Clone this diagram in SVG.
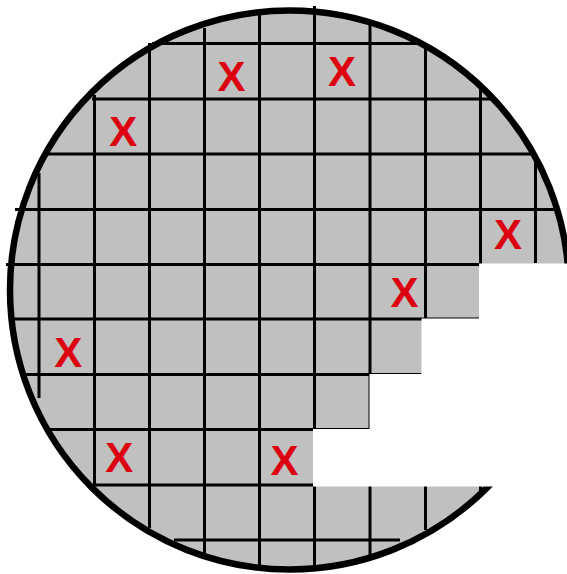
<svg xmlns="http://www.w3.org/2000/svg" width="567" height="574" viewBox="0 0 567 574">
<style>
.g line{stroke:#000;stroke-width:3}
.x{font-family:"Liberation Sans",Arial,sans-serif;font-weight:bold;font-size:42px;fill:#dc0010;text-anchor:middle}
</style>
<rect width="567" height="574" fill="#fff"/>
<g id="wafer">
<circle cx="289.5" cy="290" r="279.5" fill="#c0c0c0"/>
</g>
<g id="grid" class="g">
<line x1="39" y1="173" x2="39" y2="398"/>
<line x1="94.5" y1="95" x2="94.5" y2="486"/>
<line x1="149.5" y1="43" x2="149.5" y2="528"/>
<line x1="204.5" y1="28" x2="204.5" y2="554"/>
<line x1="259.5" y1="15" x2="259.5" y2="565"/>
<line x1="314.5" y1="6" x2="314.5" y2="568"/>
<line x1="370" y1="23" x2="370" y2="556"/>
<line x1="425.5" y1="47" x2="425.5" y2="530"/>
<line x1="480.5" y1="87" x2="480.5" y2="492"/>
<line x1="535.5" y1="157" x2="535.5" y2="263"/>
<line x1="152" y1="43.5" x2="423" y2="43.5"/>
<line x1="92" y1="99" x2="491" y2="99"/>
<line x1="43" y1="154" x2="533" y2="154"/>
<line x1="15" y1="209.5" x2="560" y2="209.5"/>
<line x1="6" y1="264.5" x2="479" y2="264.5"/>
<line x1="13" y1="319" x2="479" y2="319"/>
<line x1="25" y1="374.5" x2="421.5" y2="374.5"/>
<line x1="50" y1="429.5" x2="369.5" y2="429.5"/>
<line x1="93" y1="485" x2="313" y2="485"/>
<line x1="174" y1="540" x2="400" y2="540"/>
</g>
<g id="edge">
<circle cx="289.5" cy="290" r="279.5" fill="none" stroke="#000" stroke-width="6.5"/>
</g>
<g id="notch">
<path d="M479,263.5 H570 V486.5 H313 V429 H369.5 V374 H421.5 V318.5 H479 Z" fill="#fff"/>
</g>
<g id="defects">
<text class="x" x="231.5" y="90.5">X</text>
<text class="x" x="342" y="85.5">X</text>
<text class="x" x="123.3" y="146">X</text>
<text class="x" x="508" y="248.7">X</text>
<text class="x" x="404.5" y="306.5">X</text>
<text class="x" x="68.3" y="366.5">X</text>
<text class="x" x="119.3" y="472">X</text>
<text class="x" x="284.5" y="474.5">X</text>
</g>
</svg>
